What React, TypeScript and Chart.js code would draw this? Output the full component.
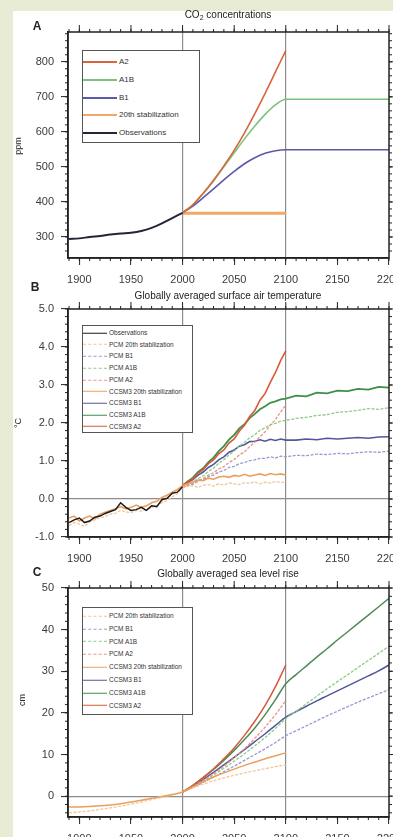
import React, { useEffect, useRef } from "react";
import { Chart, registerables } from "chart.js";
Chart.register(...registerables);
Chart.defaults.font.family = '"Liberation Sans", Arial, sans-serif';

// ---------- shared axis ----------
const X_MIN = 1889;
const X_MAX = 2200;
const X_TICKS = [1900, 1950, 2000, 2050, 2100, 2150, 2200];

// ---------- Panel A: CO2 concentrations (ppm) ----------
const CO2_OBS_YEARS = [1890, 1900, 1910, 1920, 1930, 1940, 1950, 1960, 1970, 1980, 1990, 2000];
const CO2_OBS = [294, 296, 300, 303, 307, 310, 312, 317, 326, 339, 354, 369];
const CO2_SCEN_YEARS = [2000, 2010, 2020, 2030, 2040, 2050, 2060, 2070, 2080, 2090, 2100];
const CO2_A2 = [369, 392, 425, 462, 503, 547, 597, 652, 710, 771, 832];
const CO2_A1B = [369, 392, 424, 460, 500, 540, 580, 617, 650, 677, 693];
const CO2_B1 = [369, 388, 412, 437, 463, 487, 509, 526, 539, 546, 549];
const CO2_EXT_YEARS = [2200];
const CO2_A1B_EXT = [693];
const CO2_B1_EXT = [549];
const CO2_STAB_YEARS = [2000, 2100];
const CO2_STAB = [368, 368];
const CO2_Y_TICKS = [300, 400, 500, 600, 700, 800];

// ---------- Panel B: surface air temperature (°C) ----------
const T_OBS_YEARS = [1890, 1895, 1900, 1905, 1910, 1915, 1920, 1925, 1930, 1935, 1940, 1945, 1950, 1955, 1960, 1965, 1970, 1975, 1980, 1985, 1990, 1995, 2000];
const T_OBS = [-0.62, -0.55, -0.5, -0.62, -0.58, -0.48, -0.45, -0.38, -0.33, -0.28, -0.1, -0.22, -0.3, -0.28, -0.22, -0.3, -0.18, -0.2, -0.02, 0.02, 0.15, 0.18, 0.32];
const T_HIST_YEARS = [1890, 1895, 1900, 1905, 1910, 1915, 1920, 1925, 1930, 1935, 1940, 1945, 1950, 1955, 1960, 1965, 1970, 1975, 1980, 1985, 1990, 1995];
const T_CCSM3_HIST = [-0.5, -0.45, -0.58, -0.5, -0.45, -0.52, -0.4, -0.35, -0.3, -0.26, -0.2, -0.26, -0.22, -0.16, -0.22, -0.18, -0.1, -0.06, 0.04, 0.1, 0.18, 0.25];
const T_PCM_HIST = [-0.7, -0.62, -0.66, -0.72, -0.6, -0.55, -0.5, -0.46, -0.4, -0.38, -0.3, -0.34, -0.36, -0.3, -0.32, -0.28, -0.22, -0.18, -0.1, -0.04, 0.06, 0.14];
const T_PROJ_YEARS = [2000, 2005, 2010, 2015, 2020, 2025, 2030, 2035, 2040, 2045, 2050, 2055, 2060, 2065, 2070, 2075, 2080, 2085, 2090, 2095, 2100];
const T_CCSM3_STAB = [0.35, 0.4, 0.45, 0.5, 0.48, 0.55, 0.52, 0.58, 0.6, 0.57, 0.62, 0.6, 0.65, 0.6, 0.63, 0.66, 0.62, 0.67, 0.64, 0.66, 0.63];
const T_PCM_STAB = [0.3, 0.33, 0.35, 0.3, 0.36, 0.38, 0.34, 0.4, 0.37, 0.42, 0.4, 0.38, 0.43, 0.41, 0.45, 0.4, 0.44, 0.42, 0.46, 0.43, 0.45];
const T_CCSM3_A2 = [0.35, 0.46, 0.53, 0.68, 0.77, 0.93, 1.03, 1.19, 1.29, 1.47, 1.58, 1.79, 1.94, 2.17, 2.33, 2.6, 2.78, 3.07, 3.33, 3.64, 3.9];
const T_PCM_A2 = [0.3, 0.36, 0.41, 0.49, 0.54, 0.63, 0.69, 0.79, 0.85, 0.96, 1.04, 1.16, 1.24, 1.38, 1.49, 1.64, 1.77, 1.94, 2.09, 2.29, 2.47];
const T_CCSM3_A1B = [0.35, 0.46, 0.56, 0.71, 0.81, 0.97, 1.09, 1.26, 1.39, 1.56, 1.69, 1.86, 1.97, 2.13, 2.24, 2.36, 2.44, 2.53, 2.57, 2.62, 2.64];
const T_PCM_A1B = [0.3, 0.38, 0.44, 0.54, 0.61, 0.73, 0.81, 0.94, 1.03, 1.16, 1.26, 1.39, 1.49, 1.61, 1.69, 1.81, 1.87, 1.96, 1.99, 2.05, 2.07];
const T_CCSM3_B1 = [0.35, 0.44, 0.51, 0.63, 0.71, 0.83, 0.91, 1.03, 1.11, 1.23, 1.29, 1.39, 1.43, 1.51, 1.52, 1.56, 1.52, 1.57, 1.54, 1.58, 1.55];
const T_PCM_B1 = [0.3, 0.36, 0.39, 0.47, 0.51, 0.59, 0.63, 0.71, 0.75, 0.83, 0.86, 0.93, 0.96, 1.01, 1.03, 1.07, 1.07, 1.11, 1.08, 1.13, 1.11];
const T_EXT_YEARS = [2110, 2120, 2130, 2140, 2150, 2160, 2170, 2180, 2190, 2200];
const T_CCSM3_A1B_EXT = [2.72, 2.7, 2.8, 2.78, 2.85, 2.84, 2.9, 2.88, 2.95, 2.93];
const T_PCM_A1B_EXT = [2.12, 2.15, 2.2, 2.22, 2.28, 2.3, 2.33, 2.38, 2.36, 2.4];
const T_CCSM3_B1_EXT = [1.55, 1.58, 1.56, 1.6, 1.58, 1.6, 1.62, 1.6, 1.63, 1.64];
const T_PCM_B1_EXT = [1.15, 1.14, 1.18, 1.17, 1.2, 1.19, 1.22, 1.24, 1.23, 1.26];
const T_Y_TICKS = [-1, 0, 1, 2, 3, 4, 5];

// ---------- Panel C: sea level rise (cm) ----------
const SL_HIST_YEARS = [1890, 1900, 1910, 1920, 1930, 1940, 1950, 1960, 1970, 1980, 1990];
const SL_CCSM3_HIST = [-2.6, -2.6, -2.5, -2.3, -2.1, -1.8, -1.4, -1.0, -0.5, -0.1, 0.4];
const SL_PCM_HIST = [-4.0, -3.8, -3.5, -3.2, -2.8, -2.4, -1.9, -1.4, -0.8, -0.3, 0.3];
const SL_PROJ_YEARS = [2000, 2010, 2020, 2030, 2040, 2050, 2060, 2070, 2080, 2090, 2100];
const SL_CCSM3_STAB = [1.0, 2.3, 3.5, 4.6, 5.6, 6.5, 7.4, 8.2, 9.0, 9.7, 10.4];
const SL_PCM_STAB = [1.0, 2.0, 2.9, 3.7, 4.4, 5.0, 5.6, 6.1, 6.6, 7.1, 7.5];
const SL_CCSM3_A2 = [1.0, 2.6, 4.5, 6.6, 9.0, 11.6, 14.6, 18.0, 21.8, 26.3, 31.5];
const SL_PCM_A2 = [1.0, 2.3, 3.8, 5.4, 7.2, 9.2, 11.4, 13.9, 16.6, 19.6, 23.0];
const SL_CCSM3_A1B = [1.0, 2.6, 4.4, 6.4, 8.6, 11.0, 13.6, 16.4, 19.6, 23.2, 27.0];
const SL_PCM_A1B = [1.0, 2.2, 3.6, 5.1, 6.7, 8.4, 10.2, 12.1, 14.1, 16.3, 18.6];
const SL_CCSM3_B1 = [1.0, 2.4, 4.0, 5.7, 7.5, 9.3, 11.2, 13.1, 15.0, 17.0, 19.0];
const SL_PCM_B1 = [1.0, 2.1, 3.3, 4.6, 5.9, 7.2, 8.6, 10.0, 11.4, 12.9, 14.5];
const SL_EXT_YEARS = [2110, 2120, 2130, 2140, 2150, 2160, 2170, 2180, 2190, 2200];
const SL_CCSM3_A1B_EXT = [29.2, 31.3, 33.4, 35.4, 37.5, 39.5, 41.5, 43.5, 45.5, 47.5];
const SL_PCM_A1B_EXT = [20.4, 22.2, 24.0, 25.8, 27.5, 29.2, 30.9, 32.6, 34.3, 36.0];
const SL_CCSM3_B1_EXT = [20.3, 21.6, 22.9, 24.1, 25.3, 26.5, 27.7, 28.9, 30.1, 31.5];
const SL_PCM_B1_EXT = [15.7, 16.9, 18.1, 19.3, 20.4, 21.5, 22.6, 23.6, 24.6, 25.6];
const SL_Y_TICKS = [0, 10, 20, 30, 40, 50];

// ---------- legends ----------
const LEGEND_A = ["A2", "A1B", "B1", "20th stabilization", "Observations"];
const LEGEND_B = ["Observations", "PCM 20th stabilization", "PCM B1", "PCM A1B", "PCM A2", "CCSM3 20th stabilization", "CCSM3 B1", "CCSM3 A1B", "CCSM3 A2"];
const LEGEND_C = ["PCM 20th stabilization", "PCM B1", "PCM A1B", "PCM A2", "CCSM3 20th stabilization", "CCSM3 B1", "CCSM3 A1B", "CCSM3 A2"];

// ---------- styles ----------
const FONT = '"Liberation Sans", Arial, sans-serif';
const BG = "#e7ebd3";
const C_A = { A2: "#d9653e", A1B: "#7cc27c", B1: "#5b5aa8", STAB: "#f2a765", OBS: "#2b2235" };
const C_CCSM3 = { A2: "#d65a3a", A1B: "#3f8f46", B1: "#55559f", STAB: "#e9a05e" };
const C_PCM = { A2: "#e79682", A1B: "#8ccc84", B1: "#9999d6", STAB: "#f3c69a" };
const OBS_T = "#1e1a1a";
const PCM_DASH = [3, 1.5];

const pts = (xs: number[], ys: number[]) => xs.map((x, i) => ({ x, y: ys[i] }));

const frame = {
  id: "frame",
  afterDraw(chart: any, _a: any, opts: any) {
    const { ctx, chartArea, scales } = chart;
    const { left, right, top, bottom } = chartArea;
    const x = scales.x, y = scales.y;
    ctx.save();
    ctx.strokeStyle = "#222";
    ctx.lineWidth = 1;
    const ln = (x1: number, y1: number, x2: number, y2: number) => {
      ctx.beginPath(); ctx.moveTo(x1, y1); ctx.lineTo(x2, y2); ctx.stroke();
    };
    for (let v = 1890; v <= 2200; v += 10) {
      const px = x.getPixelForValue(v);
      if (px < left - 0.5 || px > right + 0.5) continue;
      ln(px, bottom, px, bottom + 3);
      ln(px, top, px, top - 3);
    }
    X_TICKS.forEach((v) => { const px = x.getPixelForValue(v); ln(px, top, px, top - 7); });
    for (let v = opts.minorStart; v <= y.max + 1e-9; v += opts.minorStep) {
      const py = y.getPixelForValue(v);
      if (py < top - 0.5 || py > bottom + 0.5) continue;
      ln(left, py, left - 3, py);
      ln(right, py, right + 3, py);
    }
    opts.major.forEach((v: number) => { const py = y.getPixelForValue(v); ln(right, py, right + 7, py); });
    ctx.lineWidth = 1.5;
    ctx.strokeRect(left, top, right - left, bottom - top);
    ctx.restore();
  },
};

function makeConfig(datasets: any[], yMin: number, yMax: number, yTicks: number[], fmt: (v: number) => string, zero: boolean, minorStart: number, minorStep: number, smooth: boolean) {
  const tickFont = { size: 11, family: FONT };
  return {
    type: "line",
    data: { datasets: datasets.map((d) => ({ pointRadius: 0, fill: false, tension: 0, cubicInterpolationMode: smooth ? "monotone" : "default", ...d })) },
    plugins: [frame],
    options: {
      animation: false,
      responsive: false,
      devicePixelRatio: 1,
      layout: { padding: { top: 21, right: 4, left: 0, bottom: 0 } },
      plugins: { legend: { display: false }, tooltip: { enabled: false }, frame: { minorStart, minorStep, major: yTicks } },
      scales: {
        x: {
          type: "linear", min: X_MIN, max: X_MAX,
          afterBuildTicks: (s: any) => { s.ticks = X_TICKS.map((v) => ({ value: v })); },
          afterFit: (s: any) => { s.height = 35; s.paddingLeft = 0; s.paddingRight = 0; },
          ticks: { font: tickFont, color: "#3a3a3a", padding: 8, maxRotation: 0, autoSkip: false, callback: (v: number) => String(v) },
          grid: {
            color: (c: any) => (c.tick && (c.tick.value === 2000 || c.tick.value === 2100) ? "#8d8d8d" : "rgba(0,0,0,0)"),
            lineWidth: 1.2, tickColor: "#222", tickLength: 7, tickWidth: 1,
          },
          border: { display: true, color: "#222", width: 1.5 },
        },
        y: {
          type: "linear", min: yMin, max: yMax,
          afterBuildTicks: (s: any) => { s.ticks = yTicks.map((v) => ({ value: v })); },
          afterFit: (s: any) => { s.width = 55; s.paddingTop = 0; s.paddingBottom = 0; },
          ticks: { font: tickFont, color: "#3a3a3a", padding: 7, autoSkip: false, callback: (v: number) => fmt(v) },
          grid: {
            color: (c: any) => (zero && c.tick && c.tick.value === 0 ? "#8d8d8d" : "rgba(0,0,0,0)"),
            lineWidth: 1.2, tickColor: "#222", tickLength: 7, tickWidth: 1,
          },
          border: { display: true, color: "#222", width: 1.5 },
        },
      },
    },
  };
}

function ChartPanel({ top, height, config }: { top: number; height: number; config: any }) {
  const ref = useRef<HTMLCanvasElement | null>(null);
  useEffect(() => {
    const chart = new Chart(ref.current as HTMLCanvasElement, config);
    return () => chart.destroy();
  }, []);
  return (
    <div style={{ position: "absolute", left: 13, top, width: 380, height }}>
      <canvas ref={ref} width={380} height={height} style={{ width: 380, height, display: "block" }} />
    </div>
  );
}

function Txt({ x, y, size, bold, rotate, children }: any) {
  return (
    <div style={{ position: "absolute", left: x, top: y, transform: `translate(-50%,-50%)${rotate ? " rotate(-90deg)" : ""}`, fontSize: size, fontFamily: FONT, fontWeight: bold ? 700 : 400, whiteSpace: "nowrap", lineHeight: 1, color: "#222" }}>
      {children}
    </div>
  );
}

function Legend({ left, top, width, height, first, step, lineLen, size, items }: any) {
  return (
    <div style={{ position: "absolute", left, top, width, height, border: "1px solid #555", background: "#fff", boxSizing: "border-box", fontFamily: FONT }}>
      {items.map((it: any, i: number) => (
        <div key={i} style={{ position: "absolute", left: 0, top: first + i * step, display: "flex", alignItems: "center", transform: "translateY(-50%)" }}>
          <div style={{ width: lineLen, borderTop: `${it.w}px ${it.dash ? "dashed" : "solid"} ${it.color}` }} />
          <span style={{ fontSize: size, color: "#333", marginLeft: 2, whiteSpace: "nowrap", lineHeight: 1 }}>{it.label}</span>
        </div>
      ))}
    </div>
  );
}

const cfgA = makeConfig(
  [
    { data: pts(CO2_OBS_YEARS, CO2_OBS), borderColor: C_A.OBS, borderWidth: 2 },
    { data: pts(CO2_SCEN_YEARS, CO2_A2), borderColor: C_A.A2, borderWidth: 1.6 },
    { data: pts([...CO2_SCEN_YEARS, ...CO2_EXT_YEARS], [...CO2_A1B, ...CO2_A1B_EXT]), borderColor: C_A.A1B, borderWidth: 1.6 },
    { data: pts([...CO2_SCEN_YEARS, ...CO2_EXT_YEARS], [...CO2_B1, ...CO2_B1_EXT]), borderColor: C_A.B1, borderWidth: 1.6 },
    { data: pts(CO2_STAB_YEARS, CO2_STAB), borderColor: C_A.STAB, borderWidth: 3 },
  ],
  240, 885, CO2_Y_TICKS, (v) => String(v), false, 260, 20, true
);

const cfgB = makeConfig(
  [
    { data: pts(T_OBS_YEARS, T_OBS), borderColor: OBS_T, borderWidth: 1.5 },
    { data: pts([...T_HIST_YEARS, ...T_PROJ_YEARS], [...T_CCSM3_HIST, ...T_CCSM3_STAB]), borderColor: C_CCSM3.STAB, borderWidth: 1.6 },
    { data: pts([...T_HIST_YEARS, ...T_PROJ_YEARS], [...T_PCM_HIST, ...T_PCM_STAB]), borderColor: C_PCM.STAB, borderWidth: 1.3, borderDash: PCM_DASH },
    { data: pts(T_PROJ_YEARS, T_CCSM3_A2), borderColor: C_CCSM3.A2, borderWidth: 1.6 },
    { data: pts(T_PROJ_YEARS, T_PCM_A2), borderColor: C_PCM.A2, borderWidth: 1.3, borderDash: PCM_DASH },
    { data: pts([...T_PROJ_YEARS, ...T_EXT_YEARS], [...T_CCSM3_A1B, ...T_CCSM3_A1B_EXT]), borderColor: C_CCSM3.A1B, borderWidth: 1.8 },
    { data: pts([...T_PROJ_YEARS, ...T_EXT_YEARS], [...T_PCM_A1B, ...T_PCM_A1B_EXT]), borderColor: C_PCM.A1B, borderWidth: 1.3, borderDash: PCM_DASH },
    { data: pts([...T_PROJ_YEARS, ...T_EXT_YEARS], [...T_CCSM3_B1, ...T_CCSM3_B1_EXT]), borderColor: C_CCSM3.B1, borderWidth: 1.6 },
    { data: pts([...T_PROJ_YEARS, ...T_EXT_YEARS], [...T_PCM_B1, ...T_PCM_B1_EXT]), borderColor: C_PCM.B1, borderWidth: 1.3, borderDash: PCM_DASH },
  ],
  -1, 5, T_Y_TICKS, (v) => v.toFixed(1), true, -1, 0.2, false
);

const cfgC = makeConfig(
  [
    { data: pts([...SL_HIST_YEARS, ...SL_PROJ_YEARS], [...SL_CCSM3_HIST, ...SL_CCSM3_STAB]), borderColor: C_CCSM3.STAB, borderWidth: 1.5 },
    { data: pts([...SL_HIST_YEARS, ...SL_PROJ_YEARS], [...SL_PCM_HIST, ...SL_PCM_STAB]), borderColor: C_PCM.STAB, borderWidth: 1.3, borderDash: PCM_DASH },
    { data: pts(SL_PROJ_YEARS, SL_CCSM3_A2), borderColor: C_CCSM3.A2, borderWidth: 1.5 },
    { data: pts(SL_PROJ_YEARS, SL_PCM_A2), borderColor: C_PCM.A2, borderWidth: 1.3, borderDash: PCM_DASH },
    { data: pts([...SL_PROJ_YEARS, ...SL_EXT_YEARS], [...SL_CCSM3_A1B, ...SL_CCSM3_A1B_EXT]), borderColor: "#4f8a5a", borderWidth: 1.5 },
    { data: pts([...SL_PROJ_YEARS, ...SL_EXT_YEARS], [...SL_PCM_A1B, ...SL_PCM_A1B_EXT]), borderColor: C_PCM.A1B, borderWidth: 1.3, borderDash: PCM_DASH },
    { data: pts([...SL_PROJ_YEARS, ...SL_EXT_YEARS], [...SL_CCSM3_B1, ...SL_CCSM3_B1_EXT]), borderColor: C_CCSM3.B1, borderWidth: 1.5 },
    { data: pts([...SL_PROJ_YEARS, ...SL_EXT_YEARS], [...SL_PCM_B1, ...SL_PCM_B1_EXT]), borderColor: C_PCM.B1, borderWidth: 1.3, borderDash: PCM_DASH },
  ],
  -5, 50, SL_Y_TICKS, (v) => String(v), true, -4, 2, true
);

const legA = [
  { label: LEGEND_A[0], color: C_A.A2, w: 2 },
  { label: LEGEND_A[1], color: C_A.A1B, w: 2 },
  { label: LEGEND_A[2], color: C_A.B1, w: 2 },
  { label: LEGEND_A[3], color: C_A.STAB, w: 2 },
  { label: LEGEND_A[4], color: C_A.OBS, w: 2 },
];
const pcmItems = (labels: string[]) => [
  { label: labels[0], color: C_PCM.STAB, w: 1.5, dash: true },
  { label: labels[1], color: C_PCM.B1, w: 1.5, dash: true },
  { label: labels[2], color: C_PCM.A1B, w: 1.5, dash: true },
  { label: labels[3], color: C_PCM.A2, w: 1.5, dash: true },
  { label: labels[4], color: C_CCSM3.STAB, w: 1.5 },
  { label: labels[5], color: C_CCSM3.B1, w: 1.5 },
  { label: labels[6], color: C_CCSM3.A1B, w: 1.5 },
  { label: labels[7], color: C_CCSM3.A2, w: 1.5 },
];
const legB = [{ label: LEGEND_B[0], color: OBS_T, w: 1.5 }, ...pcmItems(LEGEND_B.slice(1))];
const legC = pcmItems(LEGEND_C);

export default function App() {
  return (
    <div style={{ position: "absolute", left: 0, top: 0, width: 393, height: 837, overflow: "hidden", background: BG, fontFamily: FONT }}>
      <div style={{ position: "absolute", left: 13, top: 11, width: 380, height: 826, background: "#fff" }} />
      <ChartPanel top={11} height={282} config={cfgA} />
      <ChartPanel top={288} height={284} config={cfgB} />
      <ChartPanel top={567} height={285} config={cfgC} />

      <Txt x={37} y={26} size={12} bold>A</Txt>
      <Txt x={228} y={15} size={10}>CO<sub style={{ fontSize: 7, verticalAlign: "-2px" }}>2</sub> concentrations</Txt>
      <Txt x={18} y={146} size={9} rotate>ppm</Txt>

      <Txt x={35} y={287} size={12} bold>B</Txt>
      <Txt x={228} y={296} size={10}>Globally averaged surface air temperature</Txt>
      <Txt x={18} y={423} size={9} rotate>°C</Txt>

      <Txt x={37} y={572} size={12} bold>C</Txt>
      <Txt x={228} y={574} size={10}>Globally averaged sea level rise</Txt>
      <Txt x={22} y={700} size={9} rotate>cm</Txt>

      <Legend left={82} top={50} width={118} height={93} first={11} step={17.8} lineLen={34} size={8} items={legA} />
      <Legend left={82} top={325} width={111} height={108} first={7} step={11.7} lineLen={24} size={6.5} items={legB} />
      <Legend left={82} top={607} width={111} height={108} first={8} step={12.8} lineLen={24} size={6.5} items={legC} />
    </div>
  );
}
